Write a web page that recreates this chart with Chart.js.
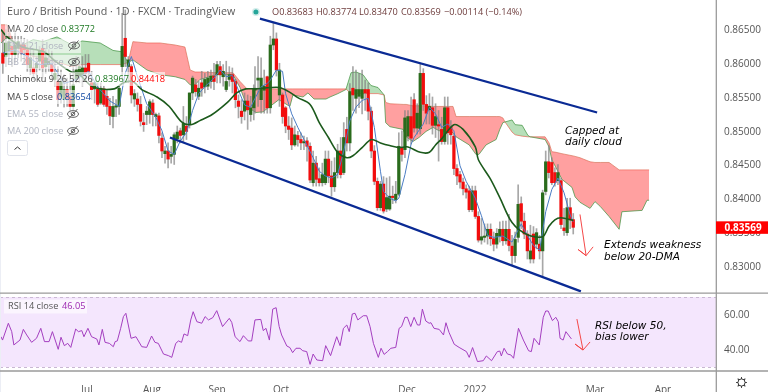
<!DOCTYPE html>
<html><head><meta charset="utf-8">
<style>html,body{margin:0;padding:0;background:#fff;overflow:hidden}canvas{display:block}</style>
<script src="https://cdn.jsdelivr.net/npm/chart.js@4"></script></head>
<body><canvas id="c" width="768" height="392"></canvas>
<script>
// Prices in pips (1/10000)
const open=[8615,8610,8618,8625,8613,8622,8627,8627,8620,8593,
8593,8593,8603,8622,8595,8598,8598,8576,8573,8551,
8546,8561,8551,8536,8576,8581,8583,8593,8600,8571,
8562,8562,8541,8562,8551,8536,8521,8535,8536,8595,
8637,8595,8595,8547,8547,8539,8512,8524,8524,8541,
8521,8522,8489,8466,8470,8462,8465,8488,8500,8494,
8507,8510,8556,8568,8551,8571,8565,8566,8573,8581,
8583,8595,8580,8561,8576,8583,8573,8544,8529,8529,
8544,8524,8534,8560,8575,8546,8560,8580,8534,8627,
8636,8553,8553,8534,8507,8504,8479,8493,8487,8482,
8485,8477,8423,8452,8429,8423,8423,8458,8433,8417,
8438,8470,8438,8502,8482,8563,8548,8551,8548,8561,
8561,8529,8470,8425,8386,8421,8384,8384,8403,8398,
8406,8475,8472,8492,8521,8546,8504,8503,8585,8539,
8531,8534,8508,8509,8502,8484,8534,8506,8492,8444,
8435,8424,8414,8411,8383,8411,8373,8338,8342,8344,
8354,8340,8332,8344,8354,8337,8354,8329,8315,8342,
8392,8366,8347,8310,8347,8332,8332,8322,8410,8454,
8453,8438,8426,8426,8356,8349,8386,8368.3];
const close=[8600,8630,8632,8613,8627,8632,8615,8620,8598,8608,
8585,8600,8618,8593,8608,8603,8588,8585,8546,8573,
8561,8548,8536,8568,8590,8595,8593,8585,8588,8561,
8571,8539,8563,8539,8536,8522,8536,8537,8563,8625,
8610,8605,8553,8555,8539,8514,8509,8529,8543,8524,
8524,8493,8470,8470,8458,8465,8494,8498,8493,8511,
8499,8556,8578,8558,8563,8563,8576,8578,8581,8573,
8598,8583,8588,8573,8583,8573,8546,8536,8521,8544,
8531,8534,8561,8563,8578,8578,8566,8534,8627,8636,
8590,8590,8521,8507,8502,8479,8494,8487,8482,8484,
8477,8427,8452,8428,8423,8435,8458,8433,8417,8438,
8470,8435,8490,8482,8558,8553,8561,8561,8561,8556,
8529,8470,8425,8386,8421,8381,8401,8403,8401,8406,
8477,8465,8519,8521,8489,8504,8526,8585,8539,8526,
8536,8508,8521,8507,8484,8534,8497,8494,8444,8433,
8424,8414,8409,8383,8411,8373,8338,8343,8344,8354,
8340,8332,8348,8354,8337,8354,8330,8315,8339,8391,
8366,8347,8322,8322,8310,8349,8322,8408,8454,8438,
8423,8423,8438,8361,8352,8386,8368,8356.9];
const high=[8645,8650,8645,8640,8645,8640,8640,8637,8635,8625,
8620,8610,8625,8635,8620,8620,8618,8605,8595,8590,
8583,8578,8585,8595,8610,8608,8610,8613,8613,8588,
8573,8571,8571,8566,8561,8548,8551,8546,8566,8674,
8679,8610,8598,8561,8556,8551,8526,8536,8546,8546,
8526,8526,8497,8477,8482,8477,8497,8507,8504,8536,
8521,8556,8581,8576,8573,8588,8585,8588,8590,8600,
8603,8603,8598,8603,8595,8593,8576,8553,8546,8556,
8553,8551,8568,8595,8610,8608,8590,8581,8640,8659,
8645,8600,8556,8536,8521,8519,8507,8499,8497,8492,
8490,8482,8470,8462,8445,8452,8470,8470,8455,8460,
8480,8490,8512,8520,8570,8595,8590,8585,8590,8575,
8571,8535,8478,8430,8425,8432,8430,8432,8418,8425,
8497,8500,8530,8530,8550,8555,8540,8600,8592,8552,
8555,8550,8540,8530,8520,8550,8550,8515,8495,8450,
8440,8430,8420,8418,8418,8418,8380,8370,8362,8362,
8362,8350,8355,8365,8366,8366,8376,8345,8350,8420,
8402,8378,8352,8360,8358,8355,8345,8412,8470,8478,
8460,8445,8450,8430,8385,8400,8400,8377.4];
const low=[8585,8595,8600,8595,8600,8608,8603,8598,8588,8583,
8576,8583,8590,8578,8585,8588,8576,8566,8536,8541,
8534,8536,8526,8531,8571,8571,8566,8576,8578,8546,
8541,8536,8539,8536,8524,8509,8504,8521,8524,8576,
8595,8571,8541,8536,8529,8507,8499,8509,8511,8507,
8507,8482,8460,8452,8445,8452,8450,8482,8482,8484,
8487,8504,8546,8551,8546,8551,8556,8561,8563,8561,
8571,8571,8566,8558,8566,8556,8534,8519,8511,8516,
8502,8514,8516,8526,8536,8526,8526,8526,8526,8620,
8581,8536,8511,8497,8487,8472,8477,8477,8472,8472,
8455,8423,8418,8418,8418,8418,8420,8423,8403,8410,
8430,8430,8435,8470,8470,8530,8526,8534,8525,8530,
8516,8460,8420,8382,8382,8378,8380,8382,8392,8393,
8404,8455,8460,8485,8480,8498,8495,8495,8530,8510,
8510,8495,8490,8455,8480,8480,8480,8480,8435,8420,
8415,8405,8400,8380,8380,8370,8335,8332,8335,8332,
8330,8322,8326,8335,8330,8332,8322,8300,8305,8335,
8355,8340,8310,8304,8304,8325,8310,8285,8405,8430,
8420,8418,8420,8355,8345,8345,8355,8347];

const ma20X=[0,2,7,14,18,23,25,30,37,40,43,46,51,55,59,62,65,69,74,77,80,83,88,91,94,97,101,104,107,110,113,115,118,121,124,127,130,133,137,140,142,144,148,151,155,156,160,163,167,172,177,179,181,183,187];
const ma20=[8650,8639,8624,8617,8602,8587,8586,8565,8562,8571,8573,8561,8550,8536,8513,8509,8515,8524,8542,8556,8562,8562,8564,8564,8558,8549,8539,8512,8490,8468,8460,8463,8475,8487,8482,8478,8475,8476,8468,8468,8479,8488,8509,8502,8476,8457,8428,8401,8364,8346,8343,8358,8368,8371,8367];
const ma5X=[0.6,4.6,8.6,12.6,16.6,20.6,24.6,28.6,31.6,35.6,38.6,40.6,42.6,44.6,47.6,50.6,52.6,54.6,56.6,58.6,60.6,62.6,64.6,66.6,69.6,71.6,73.6,75.6,77.6,79.6,81.6,83,85,87,88,90,92,93,95,97,99,102,104,106,108,110,112,114,116,118,120,122,124,125,127,129,130,132,134,135,138,140,142,144,146,148,150,152,155,157,159,161,164,167,170,172,174,176,178,180,182,184,186,187];
const ma5=[8615,8620,8610,8598,8600,8570,8576,8588,8565,8544,8536,8585,8610,8580,8540,8520,8500,8470,8465,8485,8497,8530,8555,8565,8578,8590,8580,8582,8560,8538,8535,8548,8565,8570,8575,8590,8588,8555,8525,8505,8487,8460,8440,8433,8430,8435,8470,8515,8535,8545,8548,8505,8440,8410,8400,8396,8400,8435,8480,8490,8510,8535,8525,8505,8510,8500,8448,8425,8400,8374,8345,8342,8344,8335,8362,8345,8330,8323,8380,8413,8430,8408,8375,8365];

const cloudX=[0,2,4,7,10.5,13.7,18.3,23.2,26.5,32.4,36.6,39.5,41.5,43.1,47.7,52,56.9,60.1,61.8,63.4,65,70.6,75.8,78.1,80.4,83.3,85.6,87.9,90.8,94.4,95.4,98.7,100.3,102.3,106.2,107.5,110.1,112.7,114.4,116,118.3,119.9,120.9,123.2,125.2,125.7,127.1,131.4,132.4,134.6,136.6,138.9,141.2,143.1,146.1,147.7,148.7,153,155.2,156.2,158.5,161.8,163,164,164.7,167,168,170.3,172.2,172.9,177.8,179.1,180,181.4,183.3,186.6,187.6,189.2,192.5,194.1,195.8,198.7,202,202.9,209.5,211.1,211.8];
const spanA=[8630,8638,8632,8627,8635,8632,8639,8627,8633,8630,8619,8617,8601,8605,8590,8583,8580,8576,8568,8568,8576,8583,8583,8564,8536,8527,8528,8536,8546,8536,8553,8550,8556,8547,8547,8550,8555,8561,8586,8587,8583,8573,8567,8564,8553,8512,8506,8502,8491,8484,8490,8499,8505,8500,8499,8497,8491,8479,8465,8465,8479,8487,8502,8512,8513,8516,8509,8508,8493,8491,8487,8476,8457,8445,8428,8416,8402,8394,8385,8395,8388,8373,8354,8380,8382,8397,8397];
const spanB=[8657,8657,8632,8617,8610,8608,8602,8595,8598,8598,8598,8598,8601,8632,8630,8630,8627,8624,8590,8587,8587,8586,8586,8573,8562,8562,8562,8562,8562,8562,8562,8562,8562,8562,8562,8562,8562,8562,8555,8555,8555,8555,8555,8555,8553,8542,8540,8539,8539,8537,8537,8537,8536,8536,8536,8536,8521,8521,8521,8521,8521,8521,8521,8519,8513,8498,8494,8492,8491,8491,8491,8482,8469,8468,8466,8463,8462,8460,8454,8453,8453,8453,8442,8442,8442,8442,8442];

const rsiX=[0,0.5,2.4,3.5,4.2,6.2,7.3,8.4,10,11.6,13,14.2,15.7,16.8,18.7,19.6,20.7,21.8,22.8,24.4,25.3,26.4,27.1,28.4,29.6,31.3,32,33.1,34,35.4,36.7,37.3,38,39.1,40,40.8,42.5,44.1,46,47.6,49.2,50.3,51.4,53.1,54.7,55.8,57.1,58,59,59.8,61,62,62.8,64,65.6,66.7,67.8,69.2,70.5,72.4,74.6,75.4,76.5,78.1,79.2,80.8,81.9,83,84.9,85.7,86.6,87.7,88.8,89.9,90.9,91.7,93.4,94.4,95.3,96.4,97.7,98.6,99.9,101,102,103.2,105.1,106.1,107.7,109.7,110.8,111.9,113,113.8,114.8,115.7,116.6,118.4,119.5,120.6,121.7,123.3,124.2,125.2,126.3,127.4,129,130.1,130.9,132,132.8,133.9,135,136.1,136.9,137.7,138.8,139.9,140.5,141.5,143.2,144.6,145.4,146.4,148.1,149.7,152.1,153,154.1,155.7,157.6,158.6,160.3,162.2,163,163.5,164.4,165.5,166.6,167.5,169.1,170.7,172.4,173.3,174.2,175.9,177.2,178,178.8,180.2,181.3,182.1,182.7,183.7,184.6,186.4];
const rsi=[47.3,45.4,55,50.2,42.6,45.4,51.5,48.3,44.1,46.4,52.1,44.5,44.5,50.2,40.1,47,42.2,43.5,41.2,51.7,50.2,50.8,47.3,52.1,47.3,46,42.6,51.5,44.1,43.5,41.6,44.5,44.9,52.1,58.8,60.7,46.4,47.3,41.6,41.2,47.7,44.1,43.5,37.4,36.5,35.5,43.5,44.9,44.1,48.9,47.9,56.9,61.6,55.9,55,58.8,56.9,58.2,62.2,53.1,57.8,55.5,47.3,44.5,47.9,44.9,44.9,56.9,57.2,50.8,52.1,45.4,63.1,63.9,53.1,48.3,42,41.1,38.2,40.7,40.7,39.3,38.8,31.5,37.4,34,33.6,42.2,36.5,47.3,42.2,52.1,54,50.2,60.3,60.7,56.9,59.3,59.3,53.1,43.5,35.5,40.7,37.2,38.8,40.7,41.2,52.1,53.1,58.4,58.4,53.1,58.4,54,54,63.1,56.3,55,55.3,52.1,51.5,48.3,55.3,49.8,43,41.2,38.8,35.5,41.1,33.1,33.6,36.3,33.6,38.8,39.1,36.3,40.7,37.4,36.9,35,52.1,45.4,39.3,38.8,46.4,42.6,58.4,62,62,56.5,58.4,55.9,46.4,45.4,50.2,46.05];
const rsiBand=[70,30];

const upperTrendX=[84.6,194.8], upperTrend=[8666,8527];
const lowerTrendX=[55.2,189.5], lowerTrend=[8490,8262];
const startMarkX=[83.3], startMark=[8676];
const priceArrowX=[189.2,191.2,188.6,191.2,193.5], priceArrow=[8376,8315,8324,8315,8328];
const rsiArrowX=[188.2,190.2,187.6,190.2,192.5], rsiArrow=[57.4,39.7,43.1,39.7,44.3];

const priceTicks=[0.865,0.86,0.855,0.85,0.845,0.84,0.835,0.83];
const rsiTicks=[60,40];
const timeTickX=[28.1,49.3,70.6,91.5,132.7,154.9,194.1,216.3];
const timeTicks=['Jul','Aug','Sep','Oct','Dec','2022','Mar','Apr'];

const FONT='"Open Sans"';
const pr=v=>v/10000;
const xy=(xs,ys,f=pr)=>xs.map((x,i)=>({x,y:f(ys[i])}));
const idn=v=>v;
const RED='#f20d0d',GRN='#2a6b1c';
const bars=open.map((_,i)=>i);
const barX=i=>i<83?i+0.6:i;
const lineBase={type:'line',pointRadius:0,fill:false,tension:0,xAxisID:'x'};
const noPad=s=>{s.paddingTop=s.paddingBottom=s.paddingLeft=s.paddingRight=0;};

const panes={id:'panes',
 beforeDatasetsDraw(ch){const c=ch.ctx,r=ch.scales.yRsi,a=ch.chartArea;
  const t=r.getPixelForValue(rsiBand[0]),b=r.getPixelForValue(rsiBand[1]);
  c.save();c.fillStyle='#f4e6fd';c.fillRect(0,t,a.right,b-t);
  c.strokeStyle='#c9b8d3';c.setLineDash([3,3]);c.lineWidth=1;
  [t,b].forEach(y=>{c.beginPath();c.moveTo(0,Math.round(y)+.5);c.lineTo(a.right,Math.round(y)+.5);c.stroke();});
  c.restore();},
 afterDraw(ch){const c=ch.ctx,a=ch.chartArea,ys=ch.scales.y;c.save();
  c.fillStyle='#eceef5';c.fillRect(0,0,1,392);
  c.strokeStyle='#9b9b9b';c.lineWidth=1.3;
  c.beginPath();c.moveTo(0,293.2);c.lineTo(768,293.2);c.moveTo(0,371);c.lineTo(768,371);c.moveTo(716.3,0);c.lineTo(716.3,392);c.stroke();
  const T=(s,x,y,col,f)=>{c.font=f||('9.2px '+FONT);c.fillStyle=col;c.textBaseline='middle';c.textAlign='left';c.fillText(s,x,y);};
  const bg=(x,y,w,h)=>{c.fillStyle='rgba(255,255,255,.62)';c.fillRect(x,y,w,h);};
  const eye=(x,y)=>{c.strokeStyle='#555';c.lineWidth=.9;c.beginPath();c.ellipse(x,y,5.5,3.4,0,0,Math.PI*2);c.moveTo(x+1.8,y);c.arc(x,y,1.8,0,Math.PI*2);c.moveTo(x-4.5,y+5);c.lineTo(x+4.5,y-5);c.stroke();};
  // title
  T('Euro / British Pound · 1D · FXCM · TradingView',7,12,'#5a5a5a','10.7px '+FONT);
  const oh='#6d3b3b';
  T('O0.83683',272,12,oh);T('H0.83774',316,12,oh);T('L0.83470',359,12,oh);T('C0.83569',401,12,oh);T('−0.00114 (−0.14%)',444,12,oh);
  // legend
  bg(5,22,90,14);T('MA 20 close',7,29,'#555');T('0.83772',61,29,'#1f7a24');
  bg(5,39,76,14);T('EMA 21 close',7,46,'#b0b4c0');eye(74,45.5);
  bg(5,55,76,14);T('BB 20 2 close',7,62,'#b0b4c0');eye(74,62);
  bg(5,72,160,14);T('Ichimoku 9 26 52 26',7,79,'#444');T('0.83967',95,79,'#1f7a24');T('0.84418',131,79,'#f00');
  bg(5,90,88,14);T('MA 5 close',7,97,'#444');T('0.83654',57,97,'#0d47a1');
  bg(5,107,76,14);T('EMA 55 close',7,114,'#b0b4c0');eye(73,114);
  bg(5,124,76,14);T('MA 200 close',7,131,'#b0b4c0');eye(73,131);
  c.fillStyle='#fff';c.strokeStyle='#e0e3eb';c.lineWidth=1;c.beginPath();c.roundRect(7.5,140.5,20,15,2);c.fill();c.stroke();
  c.strokeStyle='#333';c.beginPath();c.moveTo(14.5,149.5);c.lineTo(17.5,147);c.lineTo(20.5,149.5);c.stroke();
  // RSI legend
  c.fillStyle='rgba(255,255,255,.6)';c.fillRect(4,299.5,83,14);
  T('RSI 14 close',8,306,'#555');T('46.05',62,306,'#9c27b0');
  // annotations
  const I='italic 10.5px "DejaVu Sans"';
  T('Capped at',565,131,'#000',I);T('daily cloud',565,142,'#000',I);
  T('Extends weakness',604,245,'#000',I);T('below 20-DMA',604,257,'#000',I);
  T('RSI below 50,',595,326,'#000',I);T('bias lower',595,337,'#000',I);
  // last price tag
  const last=pr(close[close.length-1]),py=ys.getPixelForValue(last);
  c.fillStyle='#ff0000';c.fillRect(716,py-6,52,12.5);
  c.font='bold 10px '+FONT;c.fillStyle='#fff';c.textAlign='left';c.textBaseline='middle';c.fillText(last.toFixed(5),724.5,py+.5);
  // gear
  c.translate(741.5,382.5);c.strokeStyle='#333';c.lineWidth=1;c.beginPath();c.arc(0,0,3.6,0,Math.PI*2);c.stroke();
  for(let i=0;i<8;i++){c.rotate(Math.PI/4);c.beginPath();c.moveTo(3.6,0);c.lineTo(5.4,0);c.stroke();}
  c.restore();}
};

new Chart(document.getElementById('c'),{
 type:'bar',
 plugins:[panes],
 data:{datasets:[
  Object.assign({},lineBase,{label:'Span A',data:xy(cloudX,spanA),yAxisID:'y',borderColor:'rgba(70,150,70,.75)',borderWidth:1,order:20,
    fill:{target:'+1',above:'rgba(76,175,80,.40)',below:'rgba(255,82,82,.55)'}}),
  Object.assign({},lineBase,{label:'Span B',data:xy(cloudX,spanB),yAxisID:'y',borderColor:'rgba(230,110,90,.7)',borderWidth:1,order:21}),
  {type:'bar',label:'Wicks',data:bars.map(i=>({x:barX(i),y:[pr(low[i]),pr(high[i])]})),yAxisID:'y',xAxisID:'x',grouped:false,barThickness:1,backgroundColor:'rgba(130,130,130,.7)',order:8},
  {type:'bar',label:'Bodies',data:bars.map(i=>({x:barX(i),y:[pr(open[i]),pr(close[i])]})),yAxisID:'y',xAxisID:'x',grouped:false,barThickness:2.6,
    backgroundColor:bars.map(i=>close[i]>=open[i]?GRN:RED),order:7},
  Object.assign({},lineBase,{label:'MA 5',data:xy(ma5X,ma5),yAxisID:'y',borderColor:'#4a7cc4',borderWidth:1,order:5}),
  Object.assign({},lineBase,{label:'MA 20',data:xy(ma20X,ma20),yAxisID:'y',borderColor:'#1c5a1c',borderWidth:1.6,tension:.3,order:4}),
  Object.assign({},lineBase,{label:'Upper channel',data:xy(upperTrendX,upperTrend),yAxisID:'y',borderColor:'#0a2a94',borderWidth:2.3,order:3}),
  Object.assign({},lineBase,{label:'Lower channel',data:xy(lowerTrendX,lowerTrend),yAxisID:'y',borderColor:'#0a2a94',borderWidth:2.3,order:3}),
  Object.assign({},lineBase,{label:'Start',data:xy(startMarkX,startMark),yAxisID:'y',pointRadius:2.5,pointBorderWidth:3,pointBackgroundColor:'#26a69a',pointBorderColor:'rgba(38,166,154,.2)',showLine:false,order:3}),
  Object.assign({},lineBase,{label:'Price arrow',data:xy(priceArrowX,priceArrow),yAxisID:'y',borderColor:'#f44848',borderWidth:1,order:2}),
  Object.assign({},lineBase,{label:'RSI',data:xy(rsiX,rsi,idn),yAxisID:'yRsi',borderColor:'#a43fc0',borderWidth:1,order:2}),
  Object.assign({},lineBase,{label:'RSI arrow',data:xy(rsiArrowX,rsiArrow,idn),yAxisID:'yRsi',borderColor:'#f44848',borderWidth:1,order:1})
 ]},
 options:{responsive:false,animation:false,devicePixelRatio:1,
  layout:{padding:0,autoPadding:false},
  plugins:{legend:{display:false},tooltip:{enabled:false}},
  scales:{
   x:{type:'linear',min:-0.33,max:233.65,offset:false,grid:{display:false},border:{display:false},
     afterBuildTicks(s){s.ticks=timeTickX.map(v=>({value:v}));},
     afterFit(s){s.height=21;noPad(s);},
     ticks:{autoSkip:false,maxRotation:0,padding:5,color:'#555',font:{family:FONT,size:10},
       callback(v){const k=timeTickX.indexOf(v);return k<0?'':timeTicks[k];}}},
   y:{type:'linear',position:'right',stack:'p',stackWeight:293,weight:0,min:0.82596,max:0.86937,grid:{display:false},border:{display:false},
     afterBuildTicks(s){s.ticks=priceTicks.map(v=>({value:v}));},
     afterFit(s){s.width=52;noPad(s);},
     ticks:{autoSkip:false,padding:0,labelOffset:1,color:'#555',font:{family:FONT,size:10},callback:v=>Number(v).toFixed(5)}},
   yRsi:{type:'linear',position:'right',stack:'p',stackWeight:78,weight:1,min:27.71,max:72.29,grid:{display:false},border:{display:false},
     afterBuildTicks(s){s.ticks=rsiTicks.map(v=>({value:v}));},
     afterFit(s){s.width=52;noPad(s);},
     ticks:{autoSkip:false,padding:0,labelOffset:1,color:'#555',font:{family:FONT,size:10},callback:v=>Number(v).toFixed(2)}}
  }}
});
</script></body></html>
